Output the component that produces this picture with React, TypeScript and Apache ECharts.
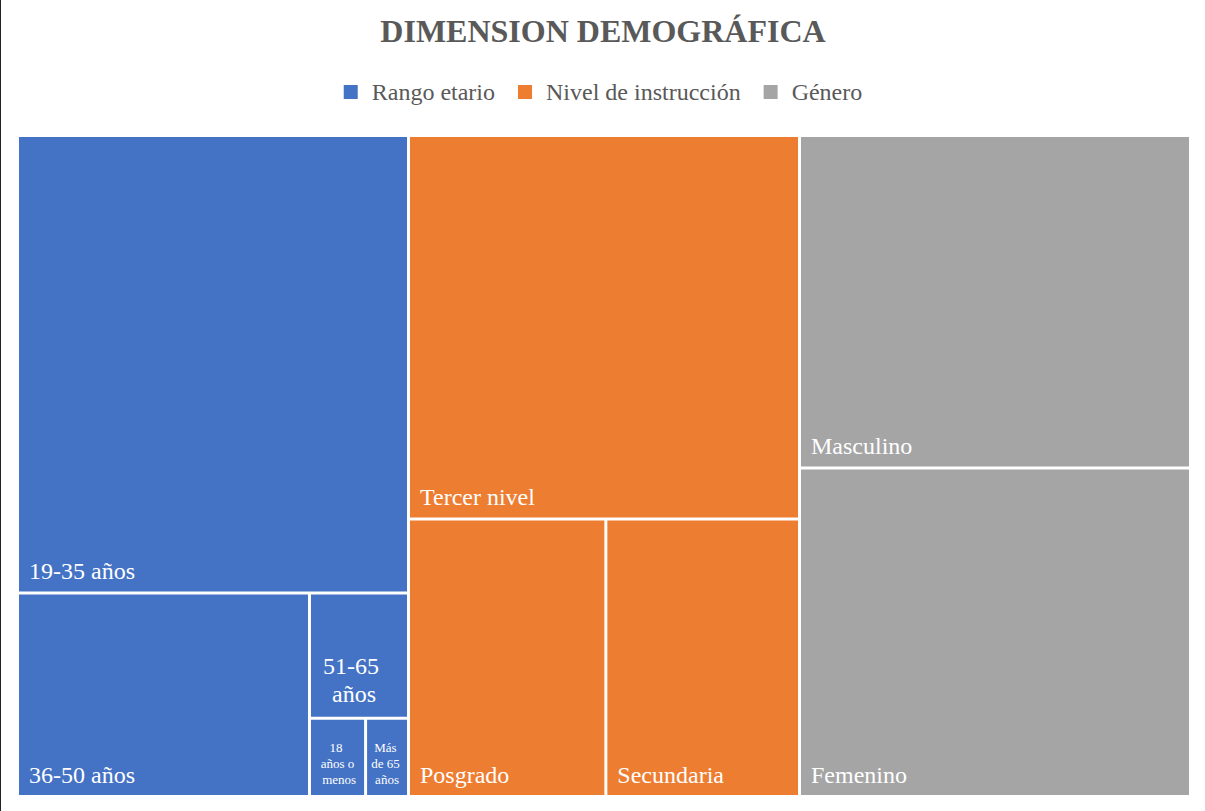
import React, { useEffect, useRef } from "react";
import * as echarts from "echarts";

const TITLE = "DIMENSION DEMOGRÁFICA";
const groups = ["Rango etario", "Nivel de instrucción", "Género"];
const groupColors = ["#4472C4", "#ED7D31", "#A5A5A5"];

const edadNames = ["19-35 años", "36-50 años", "51-65 años", "18 años o menos", "Más de 65 años"];
const edadValues = [69.2, 23.0, 4.8, 1.7, 1.3];

const instruccionNames = ["Tercer nivel", "Posgrado", "Secundaria"];
const instruccionValues = [58.0, 21.2, 20.8];

const generoNames = ["Masculino", "Femenino"];
const generoValues = [50.3, 49.7];

const FONT = "'Liberation Serif', 'Times New Roman', serif";

const leafLabel = (value: number) => {
  if (value < 3) {
    const side = value < 1.5 ? 1 : 4;
    return {
      position: "insideBottom",
      fontSize: 13,
      lineHeight: 16,
      overflow: "break",
      align: "center",
      padding: [0, side, 8, side],
    };
  }
  if (value < 6) {
    return {
      position: "insideBottom",
      fontSize: 24,
      lineHeight: 28,
      overflow: "break",
      align: "center",
      padding: [0, 12, 9, 2],
    };
  }
  return {};
};

const buildChildren = (names: string[], values: number[], color: string) =>
  names.map((n, i) => ({
    name: n,
    value: values[i],
    itemStyle: { color },
    label: leafLabel(values[i]),
  }));

export default function App() {
  const ref = useRef<HTMLDivElement>(null);
  useEffect(() => {
    if (!ref.current) return;
    const chart = echarts.init(ref.current, null, { renderer: "svg" });
    const groupData: [string[], number[]][] = [
      [edadNames, edadValues],
      [instruccionNames, instruccionValues],
      [generoNames, generoValues],
    ];
    const data = groups.map((g, gi) => ({
      name: g,
      itemStyle: { color: groupColors[gi] },
      children: buildChildren(groupData[gi][0], groupData[gi][1], groupColors[gi]),
    }));
    chart.setOption({
      animation: false,
      backgroundColor: "#ffffff",
      title: {
        text: TITLE,
        left: "center",
        top: 10,
        textStyle: {
          fontFamily: FONT,
          fontSize: 32,
          fontWeight: "bold",
          color: "#595959",
        },
      },
      legend: {
        top: 75,
        left: "center",
        icon: "rect",
        itemWidth: 14,
        itemHeight: 14,
        itemGap: 23,
        selectedMode: false,
        data: groups,
        textStyle: {
          fontFamily: FONT,
          fontSize: 24,
          color: "#595959",
          padding: [0, 0, 0, 9],
        },
      },
      series: [
        {
          type: "pie",
          radius: [0, 0],
          center: [-100, -100],
          silent: true,
          label: { show: false },
          labelLine: { show: false },
          data: groups.map((g, i) => ({ name: g, value: 1, itemStyle: { color: groupColors[i] } })),
        },
        {
          type: "treemap",
          left: 18,
          top: 137,
          right: 16,
          bottom: 16,
          roam: false,
          nodeClick: false,
          sort: false,
          squareRatio: 1,
          breadcrumb: { show: false },
          label: {
            show: true,
            position: "insideBottomLeft",
            distance: 0,
            padding: [0, 0, 8, 10],
            fontFamily: FONT,
            fontSize: 24,
            color: "#ffffff",
            overflow: "truncate",
          },
          upperLabel: { show: false },
          levels: [
            { itemStyle: { gapWidth: 3, borderWidth: 0, borderColor: "#ffffff" } },
            { itemStyle: { gapWidth: 3, borderWidth: 0, borderColor: "#ffffff" } },
            { itemStyle: { borderWidth: 0, gapWidth: 0 } },
          ],
          data,
        },
      ],
    });
    return () => chart.dispose();
  }, []);
  return (
    <div
      style={{
        position: "fixed",
        left: 0,
        top: 0,
        width: 1205,
        height: 811,
        background: "#fff",
        borderLeft: "1px solid #222",
        boxSizing: "border-box",
      }}
    >
      <div ref={ref} style={{ width: 1204, height: 811 }} />
    </div>
  );
}
